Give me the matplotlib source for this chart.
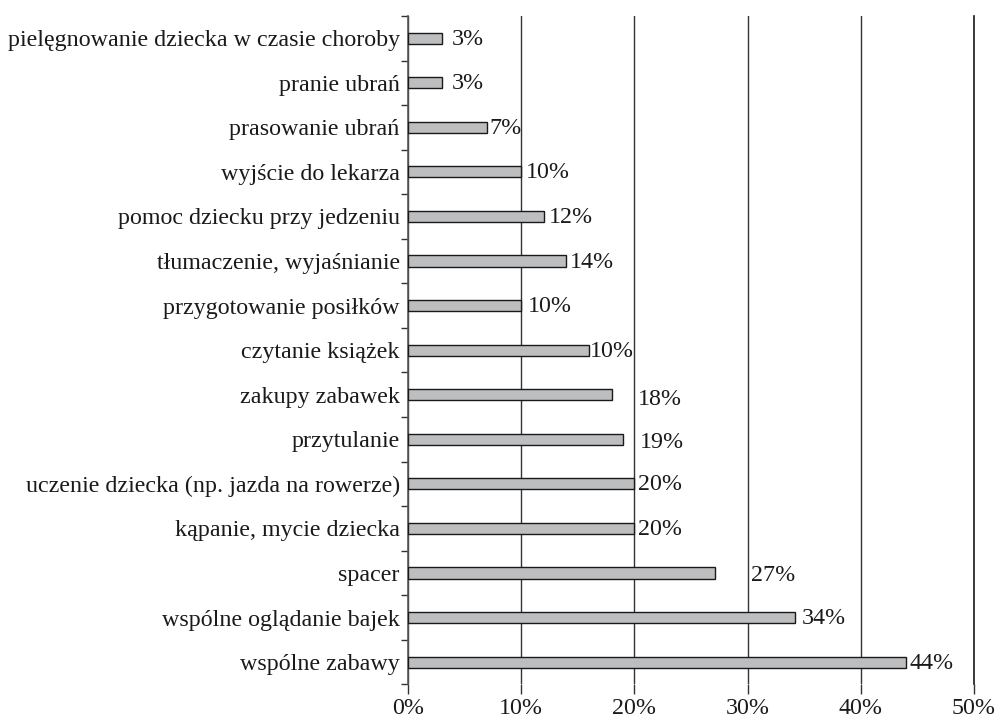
import numpy as np
import matplotlib.pyplot as plt

plt.rcParams['font.family'] = ['Liberation Serif', 'DejaVu Serif']

# categories top to bottom
categories = [
    "pielęgnowanie dziecka w czasie choroby",
    "pranie ubrań",
    "prasowanie ubrań",
    "wyjście do lekarza",
    "pomoc dziecku przy jedzeniu",
    "tłumaczenie, wyjaśnianie",
    "przygotowanie posiłków",
    "czytanie książek",
    "zakupy zabawek",
    "przytulanie",
    "uczenie dziecka (np. jazda na rowerze)",
    "kąpanie, mycie dziecka",
    "spacer",
    "wspólne oglądanie bajek",
    "wspólne zabawy",
]
values = [3, 3, 7, 10, 12, 14, 10, 16, 18, 19, 20, 20, 27.1, 34.2, 44]
# value labels as printed in the source
value_labels = ["3%", "3%", "7%", "10%", "12%", "14%", "10%", "10%",
                "18%", "19%", "20%", "20%", "27%", "34%", "44%"]
x_ticks = [0, 10, 20, 30, 40, 50]
x_ticklabels = ["0%", "10%", "20%", "30%", "40%", "50%"]

# label offsets in pixels (dx, dy), copied from the layout of the original
label_dx = [10, 10, 2, 5, 5, 3, 7, 1, 26, 17, 4, 4, 36, 7, 4]
label_dy = [0, 0, 0, 0, 0, 0, 0, 0, -4, -2, 0, 0, -2, 0, 0]

FS = 17.3
INK = '#1a1a1a'

fig = plt.figure(figsize=(9.97, 7.25), dpi=100)
ax = fig.add_axes([0.4092, 0.056, 0.5676, 0.922])

y = np.arange(len(categories))
ax.barh(y, values, height=0.25, color='#bdbec0', edgecolor=INK,
        linewidth=1.0, zorder=3)

for yi, v, lab, dx, dy in zip(y, values, value_labels, label_dx, label_dy):
    ax.annotate(lab, (v, yi), xytext=(dx, dy - 1), textcoords='offset pixels',
                ha='left', va='center', fontsize=FS, color=INK)

ax.set_ylim(len(categories) - 0.5, -0.5)
ax.set_xlim(0, 50)

ax.set_yticks(y)
ax.set_yticklabels(categories, fontsize=FS, color=INK)
ax.set_yticks(np.arange(len(categories) + 1) - 0.5, minor=True)
ax.tick_params(axis='y', which='major', length=0, pad=6)
ax.tick_params(axis='y', which='minor', length=5, width=1.0, color='#333333')

ax.set_xticks(x_ticks)
ax.set_xticklabels(x_ticklabels, fontsize=FS, color=INK)
ax.tick_params(axis='x', length=7, width=1.0, color='#333333', pad=3)

ax.grid(axis='x', color='#333333', linewidth=1.0, zorder=0)
ax.set_axisbelow(True)

for s in ['top', 'bottom']:
    ax.spines[s].set_visible(False)
ax.spines['right'].set_color(INK)
ax.spines['right'].set_linewidth(1.2)
ax.spines['left'].set_color('#555555')
ax.spines['left'].set_linewidth(1.2)

fig.savefig('out.png', dpi=100)
